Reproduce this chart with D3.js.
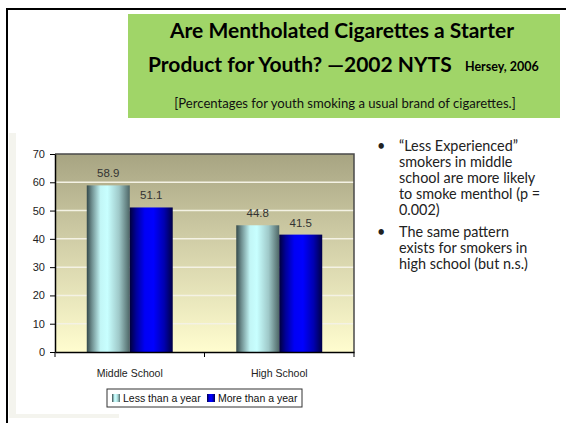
<!DOCTYPE html>
<html>
<head>
<meta charset="utf-8">
<script src="https://cdn.jsdelivr.net/npm/d3@7/dist/d3.min.js"></script>
<style>
  html, body { margin: 0; padding: 0; background: #ffffff; }
  svg { display: block; }
</style>
</head>
<body>
<svg id="slide" width="566" height="423"></svg>
<script>
// Data: usual-brand menthol smoking by school level and smoking experience
const categories = ["Middle School", "High School"];
const seriesNames = ["Less than a year", "More than a year"];
const lessThanYear = [58.9, 44.8];
const moreThanYear = [51.1, 41.5];
const yTicks = [0, 10, 20, 30, 40, 50, 60, 70];

const titleLines = ["Are Mentholated Cigarettes a Starter", "Product for Youth? \u20142002 NYTS"];
const citation = "Hersey, 2006";
const subtitle = "[Percentages for youth smoking a usual brand of cigarettes.]";
const bullets = [
  ["\u201cLess Experienced\u201d", "smokers in middle", "school are more likely", "to smoke menthol (p =", "0.002)"],
  ["The same pattern", "exists for smokers in", "high school (but n.s.)"]
];

const svg = d3.select("#slide");
const defs = svg.append("defs");

// Slide frame (top and left rules)
svg.append("rect").attr("x", 6).attr("y", 8).attr("width", 560).attr("height", 2).attr("fill", "#000");
svg.append("rect").attr("x", 6).attr("y", 8).attr("width", 2).attr("height", 415).attr("fill", "#000");

// Title banner
svg.append("rect").attr("x", 128).attr("y", 14).attr("width", 432).attr("height", 104).attr("fill", "#a0d568");
const titleFont = "Lato, 'Open Sans', sans-serif";
svg.append("text").attr("x", 342).attr("y", 38).attr("text-anchor", "middle")
  .attr("font-family", titleFont).attr("font-weight", "bold").attr("font-size", 21).attr("fill", "#000")
  .text(titleLines[0]);
svg.append("text").attr("x", 148).attr("y", 72)
  .attr("font-family", titleFont).attr("font-weight", "bold").attr("font-size", 21).attr("fill", "#000")
  .text(titleLines[1]);
svg.append("text").attr("x", 465).attr("y", 71)
  .attr("font-family", titleFont).attr("font-weight", "bold").attr("font-size", 12.5).attr("fill", "#000")
  .text(citation);
svg.append("text").attr("x", 345).attr("y", 108).attr("text-anchor", "middle")
  .attr("font-family", titleFont).attr("font-size", 13.1).attr("fill", "#111")
  .text(subtitle);

// Chart panel edge
svg.append("rect").attr("x", 9).attr("y", 133).attr("width", 7).attr("height", 285).attr("fill", "#f4f4ee");
svg.append("rect").attr("x", 9).attr("y", 414).attr("width", 110).attr("height", 4).attr("fill", "#f4f4ee");

// Plot geometry
const plot = { left: 55, right: 354, top: 154, bottom: 352 };

const y = d3.scaleLinear().domain([0, 70]).range([plot.bottom, plot.top]);
const x0 = d3.scaleBand().domain(categories).range([plot.left, plot.right])
  .paddingInner(0.425).paddingOuter(0.2125);
const x1 = d3.scaleBand().domain(seriesNames).range([0, x0.bandwidth()]);

// Plot background gradient (khaki to cream)
const bg = defs.append("linearGradient").attr("id", "plotBg")
  .attr("x1", 0).attr("y1", 0).attr("x2", 0).attr("y2", 1);
bg.append("stop").attr("offset", "0%").attr("stop-color", "#a7a482");
bg.append("stop").attr("offset", "45%").attr("stop-color", "#d2cfa8");
bg.append("stop").attr("offset", "100%").attr("stop-color", "#fffdcf");

svg.append("rect").attr("x", plot.left).attr("y", plot.top)
  .attr("width", plot.right - plot.left).attr("height", plot.bottom - plot.top)
  .attr("fill", "url(#plotBg)");

// Gridlines
svg.append("g").selectAll("line").data(yTicks.filter(d => d > 0 && d < 70)).join("line")
  .attr("x1", plot.left).attr("x2", plot.right)
  .attr("y1", d => y(d)).attr("y2", d => y(d))
  .attr("stroke", "#f4f2e4").attr("stroke-width", 1.5);

// Plot frame (top and right)
svg.append("path")
  .attr("d", `M${plot.left},${plot.top}H${plot.right}V${plot.bottom}`)
  .attr("fill", "none").attr("stroke", "#4a4a4a").attr("stroke-width", 1.5);

// Cylinder-like shading for the bars
function barGradient(id, stops) {
  const g = defs.append("linearGradient").attr("id", id)
    .attr("x1", 0).attr("y1", 0).attr("x2", 1).attr("y2", 0);
  stops.forEach(([o, c]) => g.append("stop").attr("offset", o).attr("stop-color", c));
}
barGradient("gradLess", [["0%", "#34494a"], ["12%", "#6f8f90"], ["32%", "#c2f6f6"], ["48%", "#c8ffff"], ["75%", "#9fc9c9"], ["100%", "#4e6666"]]);
barGradient("gradMore", [["0%", "#00003a"], ["15%", "#00009a"], ["35%", "#0000f5"], ["55%", "#0000ff"], ["80%", "#0000b0"], ["100%", "#000045"]]);
const fills = { "Less than a year": "url(#gradLess)", "More than a year": "url(#gradMore)" };

const rows = categories.map((c, i) => ({
  category: c,
  values: [
    { series: seriesNames[0], value: lessThanYear[i] },
    { series: seriesNames[1], value: moreThanYear[i] }
  ]
}));

const groups = svg.append("g").selectAll("g").data(rows).join("g")
  .attr("transform", d => `translate(${x0(d.category)},0)`);

groups.selectAll("rect").data(d => d.values).join("rect")
  .attr("x", d => x1(d.series))
  .attr("y", d => y(d.value))
  .attr("width", x1.bandwidth())
  .attr("height", d => y(0) - y(d.value))
  .attr("fill", d => fills[d.series]);

groups.selectAll("text").data(d => d.values).join("text")
  .attr("x", d => x1(d.series) + x1.bandwidth() / 2)
  .attr("y", d => y(d.value) - 8)
  .attr("text-anchor", "middle")
  .attr("font-family", "'Liberation Sans', Arial, sans-serif")
  .attr("font-size", 11.5).attr("fill", "#333")
  .text(d => d.value.toFixed(1));

// Axes
const yAxis = svg.append("g").attr("transform", `translate(${plot.left},0)`)
  .call(d3.axisLeft(y).tickValues(yTicks).tickSize(5).tickPadding(5).tickSizeOuter(0));
const xAxis = svg.append("g").attr("transform", `translate(0,${plot.bottom})`)
  .call(d3.axisBottom(x0).tickSize(0).tickPadding(18));

// Category boundary ticks on the x axis
const step = x0.step();
const boundaries = d3.range(categories.length + 1).map(i => plot.left + i * step);
xAxis.selectAll("line.sep").data(boundaries).join("line").attr("class", "sep")
  .attr("x1", d => d).attr("x2", d => d).attr("y1", 0).attr("y2", 5)
  .attr("stroke", "#000");

[yAxis, xAxis].forEach(a => {
  a.select(".domain").attr("stroke", "#000").attr("stroke-width", 1.5);
  a.selectAll(".tick line").attr("stroke", "#000");
  a.selectAll("text").attr("font-family", "'Liberation Sans', Arial, sans-serif")
    .attr("font-size", 11).attr("fill", "#222");
});
xAxis.selectAll(".tick text").attr("font-size", 10.5);

// Legend
const legend = svg.append("g").attr("transform", "translate(107,389)");
legend.append("rect").attr("width", 195).attr("height", 18)
  .attr("fill", "#fff").attr("stroke", "#333").attr("stroke-width", 1);
const legendX = [5, 100];
seriesNames.forEach((s, i) => {
  legend.append("rect").attr("x", legendX[i]).attr("y", 5).attr("width", 8).attr("height", 8)
    .attr("fill", fills[s]);
  legend.append("text").attr("x", legendX[i] + 11).attr("y", 13)
    .attr("font-family", "'Liberation Sans', Arial, sans-serif").attr("font-size", 10.5).attr("fill", "#111")
    .text(s);
});

// Bullet notes
const notes = svg.append("g").attr("font-family", titleFont).attr("font-size", 14.4).attr("fill", "#222");
let lineY = 151;
bullets.forEach((lines, bi) => {
  if (bi > 0) lineY += 6;
  notes.append("text").attr("x", 377).attr("y", lineY).text("\u2022");
  lines.forEach(t => {
    notes.append("text").attr("x", 399).attr("y", lineY).text(t);
    lineY += 16;
  });
});
</script>
</body>
</html>
